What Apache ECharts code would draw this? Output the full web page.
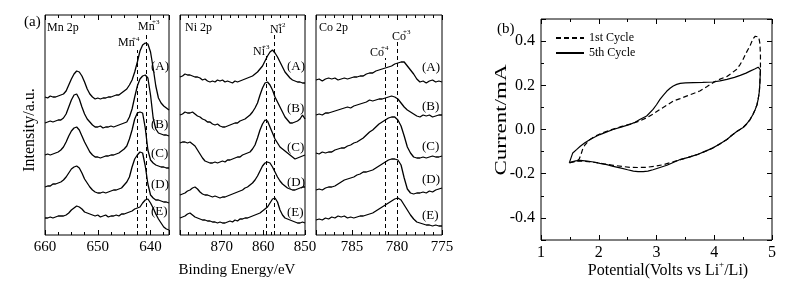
<!DOCTYPE html>
<html lang="en">
<head>
<meta charset="UTF-8">
<script src="https://cdn.jsdelivr.net/npm/echarts@6/dist/echarts.min.js"></script>
<style>
  html, body { margin: 0; padding: 0; background: #fff; }
  #chart { width: 804px; height: 288px; }
</style>
</head>
<body>
<div id="chart"></div>
<script>
// binding energy sampling of each region (eV)
const mnEnergy = [];
for (let k = 0; k < 48; k++) mnEnergy.push(+(660 - 0.5 * k).toFixed(2));
const niEnergy = [];
for (let k = 0; k < 51; k++) niEnergy.push(+(880 - 0.6 * k).toFixed(2));
const coEnergy = [];
for (let k = 0; k < 41; k++) coEnergy.push(+(789 - 0.35 * k).toFixed(2));

const sampleNames = ['(A)', '(B)', '(C)', '(D)', '(E)'];

// Mn 2p, stacked (a.u.)
const mnA = [138,137,139,138,138,139,140,141, 144,150,156,161,164,163,159,153, 146,141,138,136,137,136,137,137, 138,138,139,140,140,142,144,146, 150,155,163,173,184,190,192,191, 183,167,149,137,132,129,127,125];
const mnB = [112,113,114,113,114,115,115,117, 121,128,135,140,141,136,128,121, 116,113,110,108,108,109,107,108, 108,109,108,109,110,111,112,113, 118,126,138,149,156,159,160,157, 140,117,106,102,101,100,100,99];
const mnC = [80,81,80,81,82,83,85,88, 93,99,104,107,108,105,99,93, 88,83,80,78,78,77,78,79, 79,80,80,81,82,84,86,89, 96,105,116,122,123,122,107,85, 75,72,70,69,68,68,67,67];
const mnD = [48,49,49,51,51,52,53,55, 58,62,66,68,69,67,62,56, 52,48,45,43,42,42,43,42, 43,44,45,45,46,47,50,53, 58,68,76,80,83,82,69,51, 40,37,35,35,34,33,33,32];
const mnE = [17,17,18,17,18,19,19,19, 20,22,25,27,29,28,26,23, 22,21,20,19,20,18,19,20, 18,19,19,20,19,21,21,22, 23,24,26,27,28,32,35,36, 32,27,21,16,12,8,6,5];

// Ni 2p
const niA = [158,159,161,160,160,159,158,158, 157,155,156,154,153,154,153,155, 154,155,153,154,153,152,154,153, 154,155,156,157,158,159,161,163, 166,169,174,179,183,185,182,178, 173,168,163,160,157,155,154,153, 153,152,152];
const niB = [120,121,123,122,122,123,121,119, 118,116,115,113,113,111,110,111, 109,108,108,109,110,111,112,112, 114,115,116,118,120,123,127,132, 140,147,152,153,150,145,138,133, 128,123,118,115,112,112,113,114, 116,120,116];
const niC = [92,93,93,92,93,91,89,85, 81,77,74,73,72,72,73,72, 73,74,73,75,75,76,77,78, 78,80,81,82,83,86,90,97, 105,111,115,114,108,102,96,92, 88,86,84,82,80,78,76,77, 78,79,80];
const niD = [40,41,42,44,45,47,48,46, 43,41,40,40,39,38,39,38, 37,38,38,39,40,41,42,43, 44,45,47,48,50,52,55,59, 64,69,72,73,72,68,63,58, 54,51,49,47,46,45,45,46, 47,48,48];
const niE = [17,18,19,21,22,20,18,17, 16,15,15,14,14,13,13,12, 13,12,12,13,14,13,15,14, 16,16,17,17,18,19,20,21, 22,24,26,28,32,36,37,33, 25,20,17,16,15,14,13,12, 12,13,12];

// Co 2p
const coA = [155,156,154,156,157,156,157,155, 156,157,156,157,158,158,159,159, 161,162,162,164,165,166,167,168, 169,171,172,173,173,169,165,161, 156,153,154,152,154,155,153,154, 153];
const coB = [120,121,120,122,122,123,124,125, 126,127,128,127,129,130,131,132, 133,135,134,135,136,136,137,138, 139,138,136,132,128,125,123,121, 119,118,120,119,120,118,119,120, 120];
const coC = [82,81,83,82,83,83,85,86, 87,87,89,90,92,93,95,97, 100,103,105,108,111,113,115,117, 118,118,115,109,99,88,82,78, 77,77,78,77,78,79,78,78, 79];
const coD = [45,46,45,47,48,48,49,51, 53,55,56,57,58,60,61,63, 63,64,65,67,69,71,73,75, 76,76,75,70,57,46,42,41, 42,42,43,42,44,43,45,46, 47];
const coE = [15,16,15,17,16,18,17,19, 18,19,17,18,17,18,19,19, 20,21,22,24,26,28,30,32, 34,36,37,35,30,25,20,16, 13,12,11,10,10,9,10,9, 9];

// reference peak positions (eV) and how high their dashed marker goes
const mnMarkE = [642.6, 640.9];
const mnMarkTop = [185, 202];
const niMarkE = [859.4, 857.4];
const niMarkTop = [180, 200];
const coMarkE = [781.3, 780.0];
const coMarkTop = [177, 195];

// cyclic voltammetry (V vs Li+/Li, mA)
const cycle1V = [1.5,1.6,1.66,1.69,1.72,1.76,1.85,1.94,2.02,2.14,2.25,2.4,2.54,2.7,2.83,2.94,3.06,3.18,3.29,3.41,3.53,3.64,3.75,3.87,3.98,4.1,4.22,4.3,4.39,4.45,4.5,4.56,4.62,4.67,4.71,4.74,4.77,4.79,4.8,4.8,4.79,
  4.78,4.76,4.74,4.71,4.67,4.62,4.56,4.5,4.39,4.3,4.22,4.1,3.98,3.85,3.7,3.55,3.41,3.29,3.12,2.98,2.83,2.68,2.54,2.4,2.25,2.1,1.97,1.82,1.68,1.58,1.5];
const cycle1I = [-0.15,-0.145,-0.135,-0.115,-0.09,-0.07,-0.045,-0.03,-0.02,-0.008,0.002,0.014,0.024,0.038,0.053,0.07,0.091,0.11,0.129,0.14,0.152,0.163,0.174,0.193,0.212,0.228,0.24,0.255,0.273,0.295,0.318,0.35,0.379,0.41,0.422,0.424,0.418,0.39,0.34,0.28,0.21,
  0.17,0.136,0.112,0.091,0.068,0.045,0.025,0.009,-0.009,-0.027,-0.045,-0.065,-0.083,-0.098,-0.114,-0.126,-0.136,-0.146,-0.159,-0.166,-0.171,-0.172,-0.171,-0.167,-0.162,-0.156,-0.15,-0.146,-0.142,-0.144,-0.15];
const cycle5V = [1.49,1.55,1.62,1.68,1.76,1.85,1.94,2.02,2.14,2.25,2.4,2.54,2.63,2.71,2.83,2.94,3.0,3.06,3.12,3.18,3.24,3.29,3.35,3.41,3.5,3.64,3.8,3.98,4.1,4.22,4.35,4.45,4.55,4.62,4.7,4.76,4.79,4.8,4.79,
  4.78,4.76,4.74,4.71,4.67,4.62,4.56,4.5,4.39,4.3,4.22,4.1,3.98,3.85,3.7,3.55,3.41,3.3,3.18,3.06,2.94,2.85,2.77,2.68,2.6,2.5,2.37,2.25,2.14,2.02,1.91,1.8,1.68,1.6,1.49];
const cycle5I = [-0.151,-0.106,-0.09,-0.076,-0.06,-0.045,-0.033,-0.023,-0.011,0.0,0.012,0.023,0.033,0.045,0.061,0.091,0.112,0.136,0.156,0.174,0.188,0.197,0.204,0.209,0.211,0.212,0.213,0.215,0.22,0.227,0.236,0.245,0.255,0.264,0.274,0.282,0.284,0.27,0.21,
  0.17,0.136,0.112,0.091,0.068,0.045,0.025,0.009,-0.009,-0.027,-0.045,-0.065,-0.083,-0.098,-0.114,-0.126,-0.136,-0.148,-0.162,-0.172,-0.182,-0.188,-0.191,-0.191,-0.188,-0.182,-0.174,-0.167,-0.159,-0.153,-0.147,-0.143,-0.14,-0.142,-0.151];

const FONT = 'Liberation Serif';
const chart = echarts.init(document.getElementById('chart'));

function pairs(xs, ys) {
  return xs.map((x, k) => [x, ys[k]]);
}

// labelStep: which tick values get a label; hideMax drops the label at the left (max) edge
function specAxis(grid, min, max, pos, labelStep, hideMax, extra) {
  return Object.assign({
    type: 'value', gridIndex: grid, min: min, max: max, inverse: true, position: pos,
    axisLine: { show: false, onZero: false },
    axisTick: { show: true, inside: true, length: 5, lineStyle: { color: '#000', width: 1 } },
    splitLine: { show: false },
    axisLabel: {
      show: pos === 'bottom', color: '#000', fontFamily: FONT, fontSize: 15, margin: 5,
      formatter: v => (Math.abs(v % labelStep) < 1e-6 && !(hideMax && v === max)) ? String(v) : ''
    }
  }, extra);
}

function minor(n) {
  return { show: true, splitNumber: n, length: 3, lineStyle: { color: '#000', width: 1 } };
}

function specSeries(xs, ys, xi, yi, name, marks, tops) {
  const s = {
    type: 'line', name: name, xAxisIndex: xi, yAxisIndex: yi,
    data: pairs(xs, ys), symbol: 'none', silent: true,
    lineStyle: { color: '#000', width: 1.3 }
  };
  if (marks) {
    s.markLine = {
      symbol: ['none', 'none'], silent: true, label: { show: false },
      lineStyle: { type: [4, 3], color: '#000', width: 1 },
      data: marks.map((e, k) => [{ coord: [e, 0] }, { coord: [e, tops[k]] }])
    };
  }
  return s;
}

function txt(x, y, text, size, align, rot, stretch) {
  return {
    type: 'text', x: x, y: y, rotation: rot || 0, scaleX: stretch || 1, silent: true,
    style: { text: text, fill: '#000', font: size + 'px "' + FONT + '"', align: align || 'left', verticalAlign: 'middle' }
  };
}

// x-axis title of (b) with a raised "+", centred under the plot
const measure = document.createElement('canvas').getContext('2d');
function textWidth(s, size) {
  measure.font = size + 'px "' + FONT + '"';
  return measure.measureText(s).width;
}
const potParts = ['Potential(Volts vs Li', '+', '/Li)'];
const potW = [textWidth(potParts[0], 16), textWidth(potParts[1], 9), textWidth(potParts[2], 16)];
const potX0 = 668 - (potW[0] + potW[1] + potW[2]) / 2;

const graphics = [
  txt(24, 22, '(a)', 15), txt(497, 29, '(b)', 15),
  txt(47, 28, 'Mn 2p', 12), txt(185, 28, 'Ni 2p', 12), txt(319, 28, 'Co 2p', 12),
  txt(138, 27, 'Mn', 12), txt(152, 22, '+3', 7),
  txt(118, 43, 'Mn', 12), txt(132, 39, '+4', 7),
  txt(270, 30, 'Ni', 12), txt(278, 25, '+2', 7),
  txt(253, 52, 'Ni', 12), txt(262, 47, '+3', 7),
  txt(392, 37, 'Co', 12), txt(403, 32, '+3', 7),
  txt(370, 53, 'Co', 12), txt(381, 48, '+4', 7),
  txt(237, 270, 'Binding Energy/eV', 15, 'center'),
  txt(30, 130, 'Intensity/a.u.', 16, 'center', Math.PI / 2),
  txt(502, 120, 'Current/mA', 17, 'center', Math.PI / 2, 1.35),
  txt(potX0, 271, potParts[0], 16),
  txt(potX0 + potW[0], 265, potParts[1], 9),
  txt(potX0 + potW[0] + potW[1], 271, potParts[2], 16)
];
const mnLabelY = [67, 125, 154, 185, 212];
const niLabelY = [67, 109, 148, 183, 213];
const coLabelY = [68, 107, 147, 180, 216];
sampleNames.forEach((n, k) => {
  graphics.push(txt(151, mnLabelY[k], n, 13));
  graphics.push(txt(287, niLabelY[k], n, 13));
  graphics.push(txt(422, coLabelY[k], n, 13));
});

const frame = { show: true, borderColor: '#000', borderWidth: 1, backgroundColor: 'transparent' };

const option = {
  animation: false,
  backgroundColor: '#fff',
  grid: [
    Object.assign({ left: 45, top: 15, width: 124, height: 220 }, frame),
    Object.assign({ left: 180, top: 15, width: 125, height: 220 }, frame),
    Object.assign({ left: 316, top: 15, width: 126, height: 220 }, frame),
    Object.assign({ left: 541, top: 19, width: 231, height: 221 }, frame)
  ],
  legend: {
    left: 550, top: 27, orient: 'vertical', itemWidth: 28, itemHeight: 8, itemGap: 3,
    selectedMode: false, data: ['1st Cycle', '5th Cycle'],
    itemStyle: { opacity: 0 },
    textStyle: { fontFamily: FONT, fontSize: 12, color: '#000' }
  },
  xAxis: [
    specAxis(0, 636.5, 660, 'bottom', 10, false, { splitNumber: 3, minorTick: minor(4) }),
    specAxis(0, 636.5, 660, 'top', 10, false, { splitNumber: 3, minorTick: minor(4) }),
    specAxis(1, 850, 880, 'bottom', 10, true, { interval: 10, minorTick: minor(5) }),
    specAxis(1, 850, 880, 'top', 10, true, { interval: 10, minorTick: minor(5) }),
    specAxis(2, 775, 789, 'bottom', 5, true, { interval: 5, minorTick: minor(5) }),
    specAxis(2, 775, 789, 'top', 5, true, { interval: 5, minorTick: minor(5) }),
    {
      type: 'value', gridIndex: 3, min: 1, max: 5, interval: 1, position: 'bottom',
      axisLine: { show: false, onZero: false }, splitLine: { show: false },
      axisTick: { inside: true, length: 5, lineStyle: { color: '#000' } },
      minorTick: minor(2),
      axisLabel: { color: '#000', fontFamily: FONT, fontSize: 16, margin: 5 }
    },
    {
      type: 'value', gridIndex: 3, min: 1, max: 5, interval: 1, position: 'top',
      axisLine: { show: false, onZero: false }, splitLine: { show: false }, axisLabel: { show: false },
      axisTick: { inside: true, length: 5, lineStyle: { color: '#000' } },
      minorTick: minor(2)
    }
  ],
  yAxis: [
    { type: 'value', gridIndex: 0, min: 0, max: 220, show: false },
    { type: 'value', gridIndex: 1, min: 0, max: 220, show: false },
    { type: 'value', gridIndex: 2, min: 0, max: 220, show: false },
    {
      type: 'value', gridIndex: 3, min: -0.5, max: 0.5, splitNumber: 5, position: 'left',
      axisLine: { show: false, onZero: false }, splitLine: { show: false },
      axisTick: { inside: true, length: 5, lineStyle: { color: '#000' } },
      minorTick: minor(2),
      axisLabel: {
        color: '#000', fontFamily: FONT, fontSize: 16, margin: 6,
        formatter: v => Math.abs(v) > 0.45 ? '' : v.toFixed(1)
      }
    },
    {
      type: 'value', gridIndex: 3, min: -0.5, max: 0.5, splitNumber: 5, position: 'right',
      axisLine: { show: false, onZero: false }, splitLine: { show: false }, axisLabel: { show: false },
      axisTick: { inside: true, length: 5, lineStyle: { color: '#000' } },
      minorTick: minor(2)
    }
  ],
  graphic: graphics,
  series: [
    specSeries(mnEnergy, mnA, 0, 0, 'Mn A'),
    specSeries(mnEnergy, mnB, 0, 0, 'Mn B'),
    specSeries(mnEnergy, mnC, 0, 0, 'Mn C'),
    specSeries(mnEnergy, mnD, 0, 0, 'Mn D'),
    specSeries(mnEnergy, mnE, 0, 0, 'Mn E', mnMarkE, mnMarkTop),
    specSeries(niEnergy, niA, 2, 1, 'Ni A'),
    specSeries(niEnergy, niB, 2, 1, 'Ni B'),
    specSeries(niEnergy, niC, 2, 1, 'Ni C'),
    specSeries(niEnergy, niD, 2, 1, 'Ni D'),
    specSeries(niEnergy, niE, 2, 1, 'Ni E', niMarkE, niMarkTop),
    specSeries(coEnergy, coA, 4, 2, 'Co A'),
    specSeries(coEnergy, coB, 4, 2, 'Co B'),
    specSeries(coEnergy, coC, 4, 2, 'Co C'),
    specSeries(coEnergy, coD, 4, 2, 'Co D'),
    specSeries(coEnergy, coE, 4, 2, 'Co E', coMarkE, coMarkTop),
    {
      type: 'line', name: '1st Cycle', xAxisIndex: 6, yAxisIndex: 3,
      data: pairs(cycle1V, cycle1I), symbol: 'none',
      lineStyle: { color: '#000', width: 1.2, type: [5, 3] }, itemStyle: { color: '#000' }
    },
    {
      type: 'line', name: '5th Cycle', xAxisIndex: 6, yAxisIndex: 3,
      data: pairs(cycle5V, cycle5I), symbol: 'none',
      lineStyle: { color: '#000', width: 1.2 }, itemStyle: { color: '#000' }
    }
  ]
};

chart.setOption(option);
</script>
</body>
</html>
